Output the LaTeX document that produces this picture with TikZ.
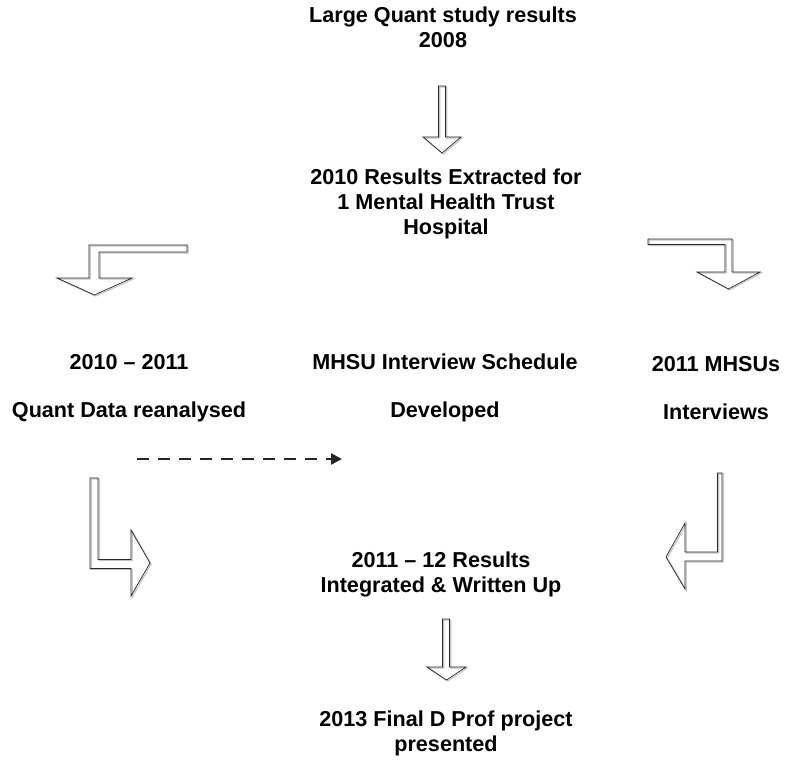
\documentclass[tikz,border=0pt]{standalone}
\usepackage{fontspec}
\setmainfont{Liberation Sans}
\usetikzlibrary{arrows.meta}

\begin{document}
\begin{tikzpicture}[x=1pt,y=-1pt,
  stage/.style={align=center,font=\fontsize{21.6}{25}\selectfont\bfseries,inner sep=0pt},
  hollow/.style={draw=black!85,line width=0.7pt,line join=miter,
    preaction={draw=gray!45,line width=1.2pt,transform canvas={xshift=1.2pt,yshift=-1pt}}}]
  \useasboundingbox (0,0) rectangle (811,764);
  \node[stage] (study) at (443,27) {Large Quant study results\\2008};
  \node[stage] (extract) at (446,204) {2010 Results Extracted for\\1 Mental Health Trust\\Hospital};
  \node[stage] (quant) at (129,388) {2010 – 2011\\[23pt]Quant Data reanalysed};
  \node[stage] (sched) at (445,388) {MHSU Interview Schedule\\[23pt]Developed};
  \node[stage] (mhsu) at (716,388) {2011 MHSUs\\[23pt]Interviews};
  \node[stage] (integ) at (441,574) {2011 – 12 Results\\Integrated \& Written Up};
  \node[stage] (final) at (446,733) {2013 Final D Prof project\\presented};
  \draw[hollow] (438.5,86) -- (445.5,86) -- (445.5,137) -- (461,137) -- (442,153) -- (423,137) -- (438.5,137) -- cycle;
  \draw[hollow] (187,245) -- (187,252) -- (99,252) -- (99,278) -- (132,278) -- (94.5,295) -- (57,278) -- (89,278) -- (89,245) -- cycle;
  \draw[hollow] (648,239) -- (732,239) -- (732,272) -- (760,272) -- (728.5,289) -- (697,272) -- (725,272) -- (725,244.5) -- (648,244.5) -- cycle;
  \draw[hollow] (90,478) -- (98,478) -- (98,559.5) -- (131,559.5) -- (131,530) -- (150,563) -- (131,596) -- (131,568.5) -- (90,568.5) -- cycle;
  \draw[hollow] (717.5,473) -- (722,473) -- (722,561) -- (685,561) -- (685,589) -- (666,557) -- (685,523) -- (685,552) -- (717.5,552) -- cycle;
  \draw[hollow] (442.5,619) -- (449.5,619) -- (449.5,667) -- (466,667) -- (446.5,680) -- (427,667) -- (442.5,667) -- cycle;
  \coordinate (dashstart) at (137,459);
  \coordinate (dashend) at (342,459);
  \draw[black!85,line width=2.4pt,dash pattern=on 12pt off 9pt,-{Triangle[length=11pt,width=11pt]}] (dashstart) -- (dashend);
\end{tikzpicture}
\end{document}
